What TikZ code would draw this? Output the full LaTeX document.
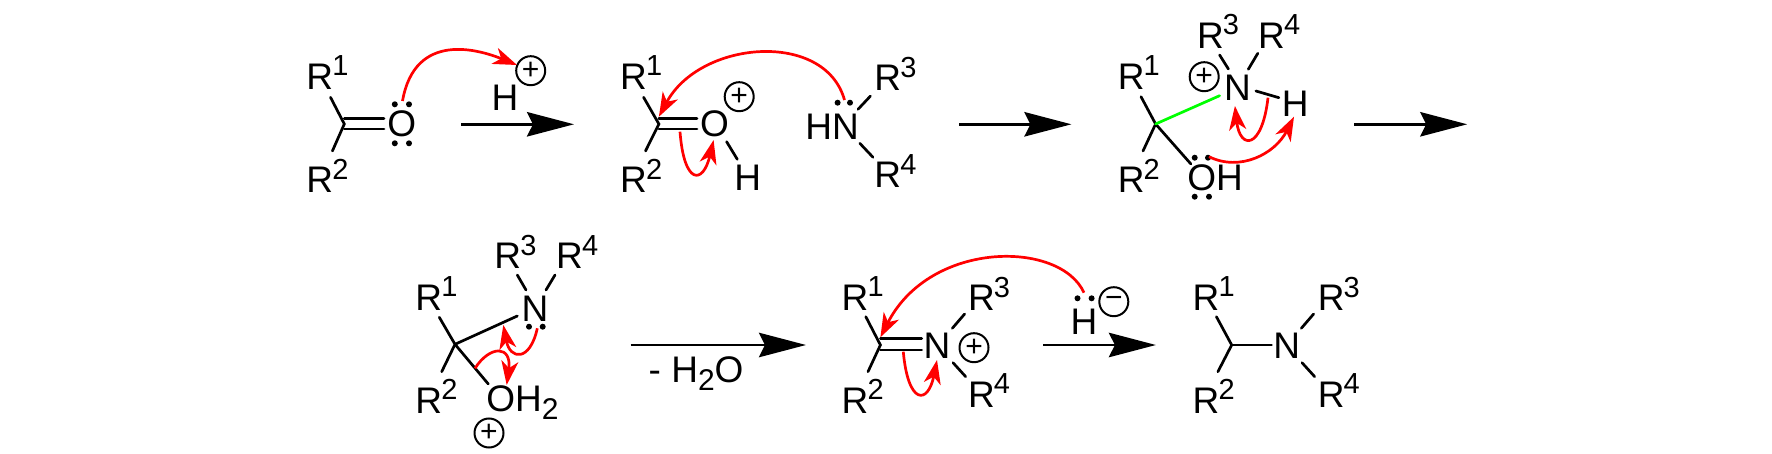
\documentclass[tikz,border=0pt]{standalone}
\usepackage{fontspec}
\setmainfont{Liberation Sans}
\usetikzlibrary{arrows.meta}
\newcommand\Sz{\fontsize{18.5}{18.5}\selectfont}
\newcommand\Sp[1]{\raisebox{6.8pt}{\kern-0.4pt\fontsize{14.5}{14.5}\selectfont #1}}
\newcommand\Sb[1]{\raisebox{-4pt}{\fontsize{15}{15}\selectfont #1}}
\tikzset{
  x=0.5pt,y=-0.5pt,
  atomw/.style={anchor=base west,inner sep=0pt,font=\Sz},
  atomc/.style={anchor=base,inner sep=0pt,font=\Sz},
  chg/.style={circle,draw,line width=1pt,minimum size=14.5pt,inner sep=0pt,font=\fontsize{15}{15}\selectfont},
  bond/.style={line width=1.35pt,line cap=round},
  reactarrow/.style={line width=1.35pt,-{Stealth[length=23.5pt,width=12.2pt,inset=3pt]}},
  pusharrow/.style={red,line width=1.35pt,-{Stealth[length=12pt,width=8.5pt,inset=3.5pt]}},
}
\newcommand\LP[2]{\fill (#1,#2) circle (3);}
\begin{document}
\begin{tikzpicture}
\useasboundingbox (0,0) rectangle (1772,454);
%% molecule 1
\node[atomw] (m1r1) at (306,89.3) {R\Sp{1}};
\node[atomw] (m1r2) at (306,192.7) {R\Sp{2}};
\node[atomc] (m1o) at (401.7,137) {O};
\coordinate (m1c) at (344.3,124);
\coordinate (m1a) at (330.5,97.3);
\coordinate (m1b) at (332.4,151);
\coordinate (m1d1) at (344.3,118.3);
\coordinate (m1e1) at (384,118.3);
\coordinate (m1d2) at (344.3,129);
\coordinate (m1e2) at (384,129);
\draw[bond] (m1a) -- (m1c) -- (m1b);
\draw[bond] (m1d1) -- (m1e1);
\draw[bond] (m1d2) -- (m1e2);
\LP{394.8}{104.3}\LP{409}{104.3}\LP{394.8}{143.3}\LP{409}{143.3}
\node[chg] (m1p) at (530.7,70.7) {+};
\node[atomc] (h1) at (505,110.7) {H};
\coordinate (a1s) at (402.5,101);
\coordinate (a1e) at (517,65);
\draw[pusharrow] (a1s) .. controls (415,30) and (480,50) .. (a1e);
\coordinate (r1s) at (461,124.3);
\coordinate (r1e) at (574,124.3);
\draw[reactarrow] (r1s) -- (r1e);
%% molecule 2
\node[atomw] (m2r1) at (619.8,89.3) {R\Sp{1}};
\node[atomw] (m2r2) at (619.8,192.7) {R\Sp{2}};
\node[atomc] (m2o) at (714.4,137) {O};
\node[chg] (m2p) at (739.2,96.7) {+};
\node[atomc] (m2h) at (747.7,190.7) {H};
\coordinate (m2c) at (658.9,124);
\coordinate (m2a) at (643.6,97.3);
\coordinate (m2b) at (645.5,151);
\coordinate (m2d1) at (658.9,118.3);
\coordinate (m2e1) at (697,118.3);
\coordinate (m2d2) at (658.9,129);
\coordinate (m2e2) at (697,129);
\coordinate (m2f) at (726.6,141.7);
\coordinate (m2g) at (737.3,159.3);
\draw[bond] (m2a) -- (m2c) -- (m2b);
\draw[bond] (m2d1) -- (m2e1);
\draw[bond] (m2d2) -- (m2e2);
\draw[bond] (m2f) -- (m2g);
\node[atomw] (m2n) at (805,139.3) {HN};
\LP{837.6}{102.7}\LP{850}{102.7}
\node[atomw] (m2r3) at (874,90.7) {R\Sp{3}};
\node[atomw] (m2r4) at (874,188) {R\Sp{4}};
\coordinate (m2i) at (858,109.3);
\coordinate (m2j) at (870.5,96);
\coordinate (m2k) at (859.8,143.3);
\coordinate (m2l) at (873,157.3);
\draw[bond] (m2i) -- (m2j);
\draw[bond] (m2k) -- (m2l);
\coordinate (a2s) at (844.5,100);
\coordinate (a2e) at (658.9,116.7);
\draw[pusharrow] (a2s) .. controls (825,30) and (700,40) .. (a2e);
\coordinate (a3s) at (680,131.7);
\coordinate (a3e) at (713.6,140);
\draw[pusharrow] (a3s) .. controls (684,185) and (703,185) .. (a3e);
\coordinate (r2s) at (959.3,124.3);
\coordinate (r2e) at (1071.4,124.3);
\draw[reactarrow] (r2s) -- (r2e);
%% molecule 3
\node[atomw] (m3r1) at (1117.4,89.3) {R\Sp{1}};
\node[atomw] (m3r2) at (1117.4,192.7) {R\Sp{2}};
\node[atomw] (m3o) at (1187,191) {OH};
\node[atomc] (m3n) at (1237.5,101) {N};
\node[chg] (m3p) at (1204.2,76.7) {+};
\node[atomw] (m3r3) at (1196.6,48.3) {R\Sp{3}};
\node[atomw] (m3r4) at (1257.8,48.3) {R\Sp{4}};
\node[atomc] (m3h) at (1295.3,116.7) {H};
\coordinate (m3c) at (1155.6,124);
\coordinate (m3a) at (1141,96.7);
\coordinate (m3b) at (1143,151);
\coordinate (m3d) at (1190.9,164);
\coordinate (m3g) at (1219.6,95.7);
\coordinate (m3i) at (1219.6,55);
\coordinate (m3j) at (1228.4,69);
\coordinate (m3k) at (1257.8,53.3);
\coordinate (m3l) at (1248.3,69.3);
\coordinate (m3m) at (1255.9,91);
\coordinate (m3q) at (1278.9,97.7);
\draw[bond] (m3a) -- (m3c) -- (m3b);
\draw[bond] (m3c) -- (m3d);
\draw[bond,green] (m3c) -- (m3g);
\draw[bond] (m3i) -- (m3j);
\draw[bond] (m3k) -- (m3l);
\draw[bond] (m3m) -- (m3q);
\LP{1194.7}{157.7}\LP{1208}{157.7}\LP{1194.7}{196.7}\LP{1209}{196.7}
\coordinate (a4s) at (1268,97.7);
\coordinate (a4e) at (1234.9,106);
\draw[pusharrow] (a4s) .. controls (1262,150) and (1240,150) .. (a4e);
\coordinate (a5s) at (1209,156.7);
\coordinate (a5e) at (1294,116.7);
\draw[pusharrow] (a5s) .. controls (1240,172) and (1275,154) .. (a5e);
\coordinate (r3s) at (1354.3,124.3);
\coordinate (r3e) at (1467.2,124.3);
\draw[reactarrow] (r3s) -- (r3e);
%% molecule 4
\node[atomw] (m4r1) at (415,310) {R\Sp{1}};
\node[atomw] (m4r2) at (415,413.3) {R\Sp{2}};
\node[atomc] (m4n) at (535,321.7) {N};
\node[atomw] (m4r3) at (494,269) {R\Sp{3}};
\node[atomw] (m4r4) at (555.7,269) {R\Sp{4}};
\node[atomw] (m4o) at (486,411) {OH\Sb{2}};
\node[chg] (m4p) at (489,433) {+};
\coordinate (m4c) at (455,344.3);
\coordinate (m4a) at (439.3,317.3);
\coordinate (m4b) at (441.7,371.7);
\coordinate (m4d) at (488.3,384);
\coordinate (m4e) at (517.3,316);
\coordinate (m4i) at (517.3,275);
\coordinate (m4j) at (526,290);
\coordinate (m4k) at (555,275);
\coordinate (m4l) at (546,290);
\draw[bond] (m4a) -- (m4c) -- (m4b);
\draw[bond] (m4c) -- (m4d);
\draw[bond] (m4c) -- (m4e);
\draw[bond] (m4i) -- (m4j);
\draw[bond] (m4k) -- (m4l);
\LP{529}{326.7}\LP{542.7}{326.7}
\coordinate (a6s) at (537.3,328.3);
\coordinate (a6e) at (503.3,325);
\draw[pusharrow] (a6s) .. controls (530,362) and (510,360) .. (a6e);
\coordinate (a7s) at (475,368.3);
\coordinate (a7e) at (506.7,385);
\draw[pusharrow] (a7s) .. controls (490,345) and (512,345) .. (a7e);
\coordinate (r4s) at (630.7,345);
\coordinate (r4e) at (806,345);
\draw[reactarrow] (r4s) -- (r4e);
\node[atomw] (loss) at (648.3,382.7) {- H\Sb{2}O};
%% molecule 5
\node[atomw] (m5r1) at (841.3,310) {R\Sp{1}};
\node[atomw] (m5r2) at (841.3,413.3) {R\Sp{2}};
\node[atomc] (m5n) at (937,358.3) {N};
\node[chg] (m5p) at (974,347.7) {+};
\node[atomw] (m5r3) at (967.6,310.7) {R\Sp{3}};
\node[atomw] (m5r4) at (967.6,407.3) {R\Sp{4}};
\coordinate (m5c) at (880.4,345);
\coordinate (m5a) at (865.8,316.7);
\coordinate (m5b) at (868,371.7);
\coordinate (m5d1) at (880.4,338.3);
\coordinate (m5e1) at (921.7,338.3);
\coordinate (m5d2) at (880.4,350);
\coordinate (m5e2) at (921.7,350);
\coordinate (m5i) at (952.3,328.3);
\coordinate (m5j) at (964.6,314);
\coordinate (m5k) at (953,362.7);
\coordinate (m5l) at (965.7,376.7);
\draw[bond] (m5a) -- (m5c) -- (m5b);
\draw[bond] (m5d1) -- (m5e1);
\draw[bond] (m5d2) -- (m5e2);
\draw[bond] (m5i) -- (m5j);
\draw[bond] (m5k) -- (m5l);
\node[atomc] (h5) at (1084,334.3) {H};
\LP{1077.5}{298.3}\LP{1091.6}{298.3}
\node[chg] (m5q) at (1113.8,301.7) {−};
\coordinate (a8s) at (1084,292.7);
\coordinate (a8e) at (880.4,337.3);
\draw[pusharrow] (a8s) .. controls (1060,240) and (930,240) .. (a8e);
\coordinate (a9s) at (903.3,351.7);
\coordinate (a9e) at (937,360);
\draw[pusharrow] (a9s) .. controls (908,405) and (928,405) .. (a9e);
\coordinate (r5s) at (1043,345);
\coordinate (r5e) at (1155.9,345);
\draw[reactarrow] (r5s) -- (r5e);
%% molecule 6
\node[atomw] (m6r1) at (1192.3,310) {R\Sp{1}};
\node[atomw] (m6r2) at (1192.3,413.3) {R\Sp{2}};
\node[atomc] (m6n) at (1286.8,358.3) {N};
\node[atomw] (m6r3) at (1317.4,310.7) {R\Sp{3}};
\node[atomw] (m6r4) at (1317.4,407.3) {R\Sp{4}};
\coordinate (m6c) at (1231.7,345);
\coordinate (m6a) at (1216.4,316.7);
\coordinate (m6b) at (1217.9,371.7);
\coordinate (m6d) at (1271.5,345);
\coordinate (m6i) at (1301.3,328.3);
\coordinate (m6j) at (1313.6,314);
\coordinate (m6k) at (1302,362.7);
\coordinate (m6l) at (1314.7,376.7);
\draw[bond] (m6a) -- (m6c) -- (m6b);
\draw[bond] (m6c) -- (m6d);
\draw[bond] (m6i) -- (m6j);
\draw[bond] (m6k) -- (m6l);
\end{tikzpicture}
\end{document}
